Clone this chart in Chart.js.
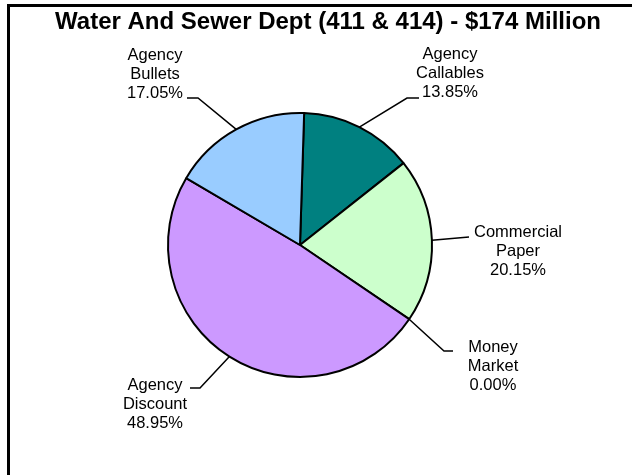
<!DOCTYPE html>
<html>
<head>
<meta charset="utf-8">
<script src="https://cdn.jsdelivr.net/npm/chart.js@4.4.0/dist/chart.umd.min.js"></script>
<style>
  body { margin: 0; background: #fff; }
  #wrap { width: 632px; height: 475px; }
</style>
</head>
<body>
<div id="wrap"><canvas id="pie" width="632" height="475"></canvas></div>
<script>
const categories = ["Agency Callables", "Commercial Paper", "Money Market", "Agency Discount", "Agency Bullets"];
const percents = [13.85, 20.15, 0.00, 48.95, 17.05];
const sliceColors = ["#008080", "#CCFFCC", "#FFFFCC", "#CC99FF", "#99CCFF"];
const titleText = "Water And Sewer Dept (411 & 414) - $174 Million";

// label placement: centre x, first line y, elbow point, end of the flat bit
const labelSpots = [
  { x: 450, y: 54, elbow: [407, 98], end: [419, 98] },
  { x: 518, y: 232, elbow: [469, 237], end: [469, 237] },
  { x: 493, y: 347, elbow: [444, 351], end: [453, 351] },
  { x: 155, y: 385, elbow: [200, 388], end: [190, 388] },
  { x: 155, y: 55, elbow: [198, 98], end: [187, 98] },
];

const FONT = '"Liberation Sans", Arial, sans-serif';

const pieLabels = {
  id: "pieLabels",
  afterDraw(chart) {
    const ctx = chart.ctx;
    ctx.save();

    // frame (only left and top edges show)
    ctx.fillStyle = "#000";
    ctx.fillRect(7, 4, 3, 475);
    ctx.fillRect(7, 4, 625, 3);

    // title
    ctx.font = "bold 24px " + FONT;
    ctx.textAlign = "center";
    ctx.textBaseline = "middle";
    ctx.fillText(titleText, 328, 22);

    const arcs = chart.getDatasetMeta(0).data;
    ctx.strokeStyle = "#000";
    ctx.lineWidth = 1.5;
    ctx.font = "16.5px " + FONT;
    arcs.forEach((arc, i) => {
      const spot = labelSpots[i];
      const mid = (arc.startAngle + arc.endAngle) / 2;
      const r = arc.outerRadius;
      const ax = arc.x + Math.cos(mid) * r;
      const ay = arc.y + Math.sin(mid) * r;
      ctx.beginPath();
      ctx.moveTo(ax, ay);
      ctx.lineTo(spot.elbow[0], spot.elbow[1]);
      ctx.lineTo(spot.end[0], spot.end[1]);
      ctx.stroke();

      const lines = categories[i].split(" ").concat(percents[i].toFixed(2) + "%");
      lines.forEach((t, k) => {
        ctx.fillText(t, spot.x, spot.y + k * 19);
      });
    });
    ctx.restore();
  }
};

new Chart(document.getElementById("pie"), {
  type: "pie",
  data: {
    labels: categories,
    datasets: [{
      data: percents,
      backgroundColor: sliceColors,
      borderColor: "#000",
      borderWidth: 2,
    }],
  },
  options: {
    responsive: false,
    animation: false,
    rotation: 1.8,
    layout: { padding: { left: 167, top: 112, right: 199, bottom: 97 } },
    plugins: {
      legend: { display: false },
      tooltip: { enabled: false },
      title: { display: false },
    },
  },
  plugins: [pieLabels],
});
</script>
</body>
</html>
